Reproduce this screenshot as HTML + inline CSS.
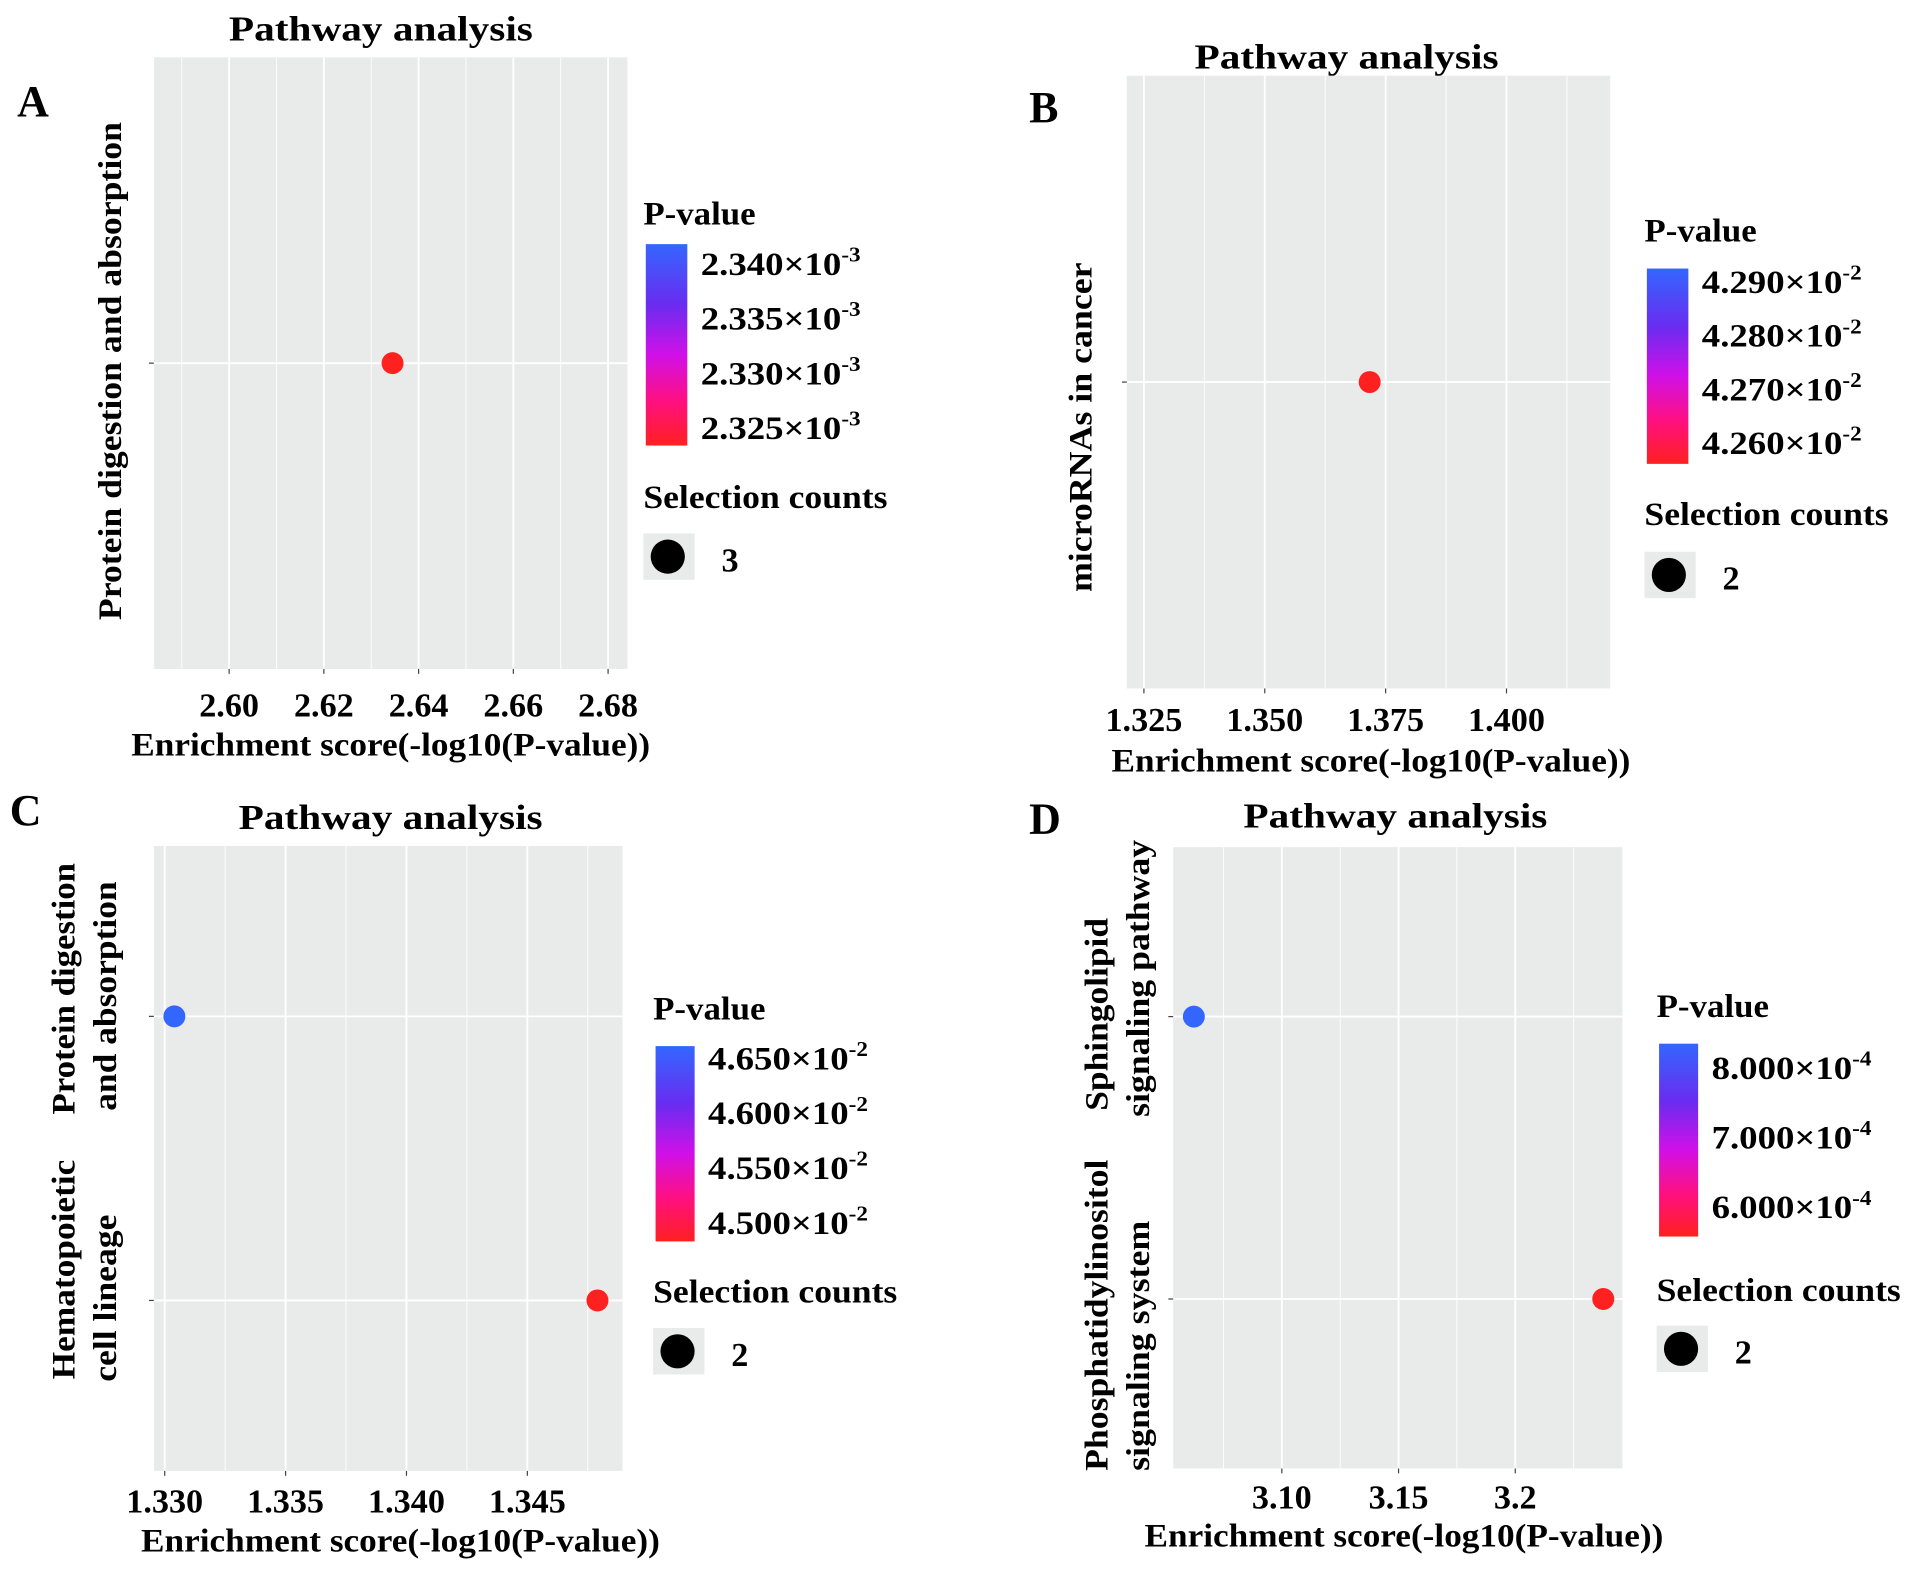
<!DOCTYPE html>
<html><head><meta charset="utf-8">
<style>
html,body{margin:0;padding:0;background:#fff;}
svg{display:block;font-family:"Liberation Serif",serif;font-weight:bold;}
</style></head>
<body>
<svg id="fig" width="1913" height="1571" viewBox="0 0 1567 1287" preserveAspectRatio="none" xmlns="http://www.w3.org/2000/svg">
<defs>
<linearGradient id="pgrad" x1="0" y1="0" x2="0" y2="1">
<stop offset="0" stop-color="#3366ff"/>
<stop offset="0.3" stop-color="#6a2cf0"/>
<stop offset="0.55" stop-color="#d010e8"/>
<stop offset="0.78" stop-color="#ff1080"/>
<stop offset="1" stop-color="#ff2020"/>
</linearGradient>
</defs>
</svg>
<script>
// ---- Panel A data ----
const catsA = ["Protein digestion and absorption"];
const scoreA = [2.6345];
const pvalA = [2.3233];
const xTicksA = [2.60, 2.62, 2.64, 2.66, 2.68];
const xTickLabelsA = ["2.60", "2.62", "2.64", "2.66", "2.68"];
const xDomainA = [2.5841, 2.6841];
const legTicksA = [2.340, 2.335, 2.330, 2.325];
const legLabelsA = ["2.340", "2.335", "2.330", "2.325"];
const legDomainA = [2.3233, 2.3417];
const legExpA = "-3";
const countA = ["3"];
// ---- Panel B data ----
const catsB = ["microRNAs in cancer"];
const scoreB = [1.3717];
const pvalB = [4.2559];
const xTicksB = [1.325, 1.350, 1.375, 1.400];
const xTickLabelsB = ["1.325", "1.350", "1.375", "1.400"];
const xDomainB = [1.32146, 1.42146];
const legTicksB = [4.290, 4.280, 4.270, 4.260];
const legLabelsB = ["4.290", "4.280", "4.270", "4.260"];
const legDomainB = [4.2559, 4.2923];
const legExpB = "-2";
const countB = ["2"];
// ---- Panel C data ----
const catsC = ["Hematopoietic|cell lineage", "Protein digestion|and absorption"];
const scoreC = [1.3479, 1.3304];
const pvalC = [4.4822, 4.66];
const xTicksC = [1.330, 1.335, 1.340, 1.345];
const xTickLabelsC = ["1.330", "1.335", "1.340", "1.345"];
const xDomainC = [1.32955, 1.34894];
const legTicksC = [4.650, 4.600, 4.550, 4.500];
const legLabelsC = ["4.650", "4.600", "4.550", "4.500"];
const legDomainC = [4.4822, 4.66];
const legExpC = "-2";
const countC = ["2"];
// ---- Panel D data ----
const catsD = ["Phosphatidylinositol|signaling system", "Sphingolipid|signaling pathway"];
const scoreD = [3.2377, 3.0623];
const pvalD = [5.561, 8.333];
const xTicksD = [3.10, 3.15, 3.20];
const xTickLabelsD = ["3.10", "3.15", "3.2"];
const xDomainD = [3.05345, 3.24592];
const legTicksD = [8.0, 7.0, 6.0];
const legLabelsD = ["8.000", "7.000", "6.000"];
const legDomainD = [5.561, 8.333];
const legExpD = "-4";
const countD = ["2"];

const NS = "http://www.w3.org/2000/svg";
const svg = document.getElementById("fig");
function mk(tag, attrs, parent, txt) {
  const e = document.createElementNS(NS, tag);
  for (const k in attrs) e.setAttribute(k, attrs[k]);
  if (txt !== undefined) e.textContent = txt;
  (parent || svg).appendChild(e);
  return e;
}
function lerp(a, b, t) { return a + (b - a) * t; }
function colorFor(v, dom) {
  let t = (v - dom[0]) / (dom[1] - dom[0]);
  t = Math.max(0, Math.min(1, t));
  const red = [255, 32, 32], blue = [51, 102, 255], mag = [208, 16, 232];
  let c;
  if (t < 0.5) c = red.map((r, i) => lerp(r, mag[i], t * 2));
  else c = mag.map((m, i) => lerp(m, blue[i], (t - 0.5) * 2));
  return "rgb(" + c.map(Math.round).join(",") + ")";
}

function panel(cfg) {
  const g = mk("g", {});
  
  
  const L = cfg.plot;
  const xs = v => L.x0 + (v - cfg.xDomain[0]) / (cfg.xDomain[1] - cfg.xDomain[0]) * (L.x1 - L.x0);
  const n = cfg.cats.length;
  const ys = i => { const lo = 0.4, hi = n + 0.6; return L.y1 - ((i + 1) - lo) / (hi - lo) * (L.y1 - L.y0); };

  const letter = mk("text", { x: cfg.letter[0], y: cfg.letter[1], "font-size": 36 }, g, cfg.letterText);
  
  
  const title = mk("text", { x: cfg.titleX, y: cfg.titleY, "font-size": 29, "text-anchor": "middle", textLength: 249, lengthAdjust: "spacingAndGlyphs" }, g, "Pathway analysis");
  
  

  const bg = mk("rect", { x: L.x0, y: L.y0, width: L.x1 - L.x0, height: L.y1 - L.y0, fill: "#e9ebea" }, g);
  
  

  const step = cfg.xTicks[1] - cfg.xTicks[0];
  for (let v = cfg.xTicks[0] - step / 2; v <= cfg.xDomain[1]; v += step) {
    if (v < cfg.xDomain[0]) continue;
    const ln = mk("line", { x1: xs(v), x2: xs(v), y1: L.y0, y2: L.y1, stroke: "#fff", "stroke-width": 0.7 }, g);
    
    
  }
  cfg.xTicks.forEach((v, i) => {
    const ln = mk("line", { x1: xs(v), x2: xs(v), y1: L.y0, y2: L.y1, stroke: "#fff", "stroke-width": 1.5 }, g);
    
    
    const tk = mk("line", { x1: xs(v), x2: xs(v), y1: L.y1, y2: L.y1 + 4, stroke: "#444", "stroke-width": 1 }, g);
    
    
    const t = mk("text", { x: xs(v), y: cfg.tickY + 1, "font-size": 28, "text-anchor": "middle" }, g, cfg.xTickLabels[i]);
    
    
  });
  cfg.cats.forEach((c, i) => {
    const ln = mk("line", { x1: L.x0, x2: L.x1, y1: ys(i), y2: ys(i), stroke: "#fff", "stroke-width": 1.5 }, g);
    
    
    const tk = mk("line", { x1: L.x0 - 4, x2: L.x0, y1: ys(i), y2: ys(i), stroke: "#444", "stroke-width": 1 }, g);
    
    
  });
  cfg.ylabels.forEach(yl => {
    const t = mk("text", { transform: `translate(${yl.x},${yl.y}) rotate(-90)`, "font-size": 27, "text-anchor": yl.anchor, textLength: yl.len, lengthAdjust: "spacingAndGlyphs" }, g, yl.text);
    
    
  });
  cfg.cats.forEach((c, i) => {
    const p = mk("circle", { cx: xs(cfg.score[i]), cy: ys(i), r: 9, fill: colorFor(cfg.pval[i], cfg.legDomain) }, g);
    
    
  });
  const xt = mk("text", { x: cfg.xTitle[0], y: cfg.xTitle[1], "font-size": 27, "text-anchor": "middle", textLength: 425, lengthAdjust: "spacingAndGlyphs" }, g, "Enrichment score(-log10(P-value))");
  
  

  const Lg = cfg.leg;
  const lt = mk("text", { x: Lg.x, y: Lg.titleY, "font-size": 27, textLength: 92, lengthAdjust: "spacingAndGlyphs" }, g, "P-value");
  
  
  const bar = mk("rect", { x: Lg.x + 2, y: Lg.b0, width: Lg.bw, height: Lg.b1 - Lg.b0, fill: "url(#pgrad)" }, g);
  
  
  const ly = v => Lg.b1 - (v - cfg.legDomain[0]) / (cfg.legDomain[1] - cfg.legDomain[0]) * (Lg.b1 - Lg.b0);
  cfg.legTicks.forEach((v, i) => {
    const t = mk("text", { x: Lg.x + Lg.bw + 13, y: ly(v) + 10, "font-size": 27, textLength: 131, lengthAdjust: "spacingAndGlyphs" }, g);
    
    
    mk("tspan", {}, t, cfg.legLabels[i] + "×10");
    mk("tspan", { dy: -11, "font-size": 17 }, t, cfg.legExp);
  });
  const st = mk("text", { x: Lg.x, y: Lg.selY, "font-size": 27, textLength: 200, lengthAdjust: "spacingAndGlyphs" }, g, "Selection counts");
  
  
  const kb = mk("rect", { x: Lg.x, y: Lg.k0, width: 42, height: 38, fill: "#e9ebea" }, g);
  
  
  const kd = mk("circle", { cx: Lg.x + 20, cy: Lg.k0 + 19, r: 14, fill: "#000" }, g);
  
  
  const kt = mk("text", { x: Lg.x + 64, y: Lg.k0 + 31, "font-size": 28 }, g, cfg.count[0]);
  
  
}

panel({ name: "panel-a", letterText: "A", letter: [14, 95], titleX: 312, titleY: 33,
  plot: { x0: 126, x1: 514, y0: 47, y1: 548 }, cats: catsA, score: scoreA, pval: pvalA,
  xTicks: xTicksA, xTickLabels: xTickLabelsA, xDomain: xDomainA, tickY: 586, xTitle: [320, 619],
  ylabels: [{ x: 99, y: 508, anchor: "start", len: 408, text: "Protein digestion and absorption" }],
  leg: { x: 527, titleY: 184, b0: 200, b1: 365, bw: 34, selY: 416, k0: 437 },
  legTicks: legTicksA, legLabels: legLabelsA, legDomain: legDomainA, legExp: legExpA, count: countA });

panel({ name: "panel-b", letterText: "B", letter: [843, 100], titleX: 1103, titleY: 56,
  plot: { x0: 923, x1: 1319, y0: 62, y1: 564 }, cats: catsB, score: scoreB, pval: pvalB,
  xTicks: xTicksB, xTickLabels: xTickLabelsB, xDomain: xDomainB, tickY: 598, xTitle: [1123, 632],
  ylabels: [{ x: 894, y: 485, anchor: "start", len: 270, text: "microRNAs in cancer" }],
  leg: { x: 1347, titleY: 198, b0: 220, b1: 380, bw: 34, selY: 430, k0: 452 },
  legTicks: legTicksB, legLabels: legLabelsB, legDomain: legDomainB, legExp: legExpB, count: countB });

panel({ name: "panel-c", letterText: "C", letter: [8, 676], titleX: 320, titleY: 679,
  plot: { x0: 126, x1: 510, y0: 693, y1: 1205 }, cats: catsC, score: scoreC, pval: pvalC,
  xTicks: xTicksC, xTickLabels: xTickLabelsC, xDomain: xDomainC, tickY: 1238, xTitle: [328, 1271],
  ylabels: [
    { x: 61, y: 913, anchor: "start", len: 206, text: "Protein digestion" },
    { x: 95, y: 910, anchor: "start", len: 188, text: "and absorption" },
    { x: 61, y: 1130, anchor: "start", len: 180, text: "Hematopoietic" },
    { x: 95, y: 1132, anchor: "start", len: 137, text: "cell lineage" }],
  leg: { x: 535, titleY: 835, b0: 857, b1: 1017, bw: 32, selY: 1067, k0: 1088 },
  legTicks: legTicksC, legLabels: legLabelsC, legDomain: legDomainC, legExp: legExpC, count: countC });

panel({ name: "panel-d", letterText: "D", letter: [843, 683], titleX: 1143, titleY: 678,
  plot: { x0: 961, x1: 1329, y0: 694, y1: 1203 }, cats: catsD, score: scoreD, pval: pvalD,
  xTicks: xTicksD, xTickLabels: xTickLabelsD, xDomain: xDomainD, tickY: 1235, xTitle: [1150, 1267],
  ylabels: [
    { x: 907, y: 910, anchor: "start", len: 158, text: "Sphingolipid" },
    { x: 941, y: 915, anchor: "start", len: 227, text: "signaling pathway" },
    { x: 907, y: 1205, anchor: "start", len: 255, text: "Phosphatidylinositol" },
    { x: 941, y: 1205, anchor: "start", len: 205, text: "signaling system" }],
  leg: { x: 1357, titleY: 833, b0: 855, b1: 1013, bw: 32, selY: 1066, k0: 1086 },
  legTicks: legTicksD, legLabels: legLabelsD, legDomain: legDomainD, legExp: legExpD, count: countD });
</script>
</body></html>
